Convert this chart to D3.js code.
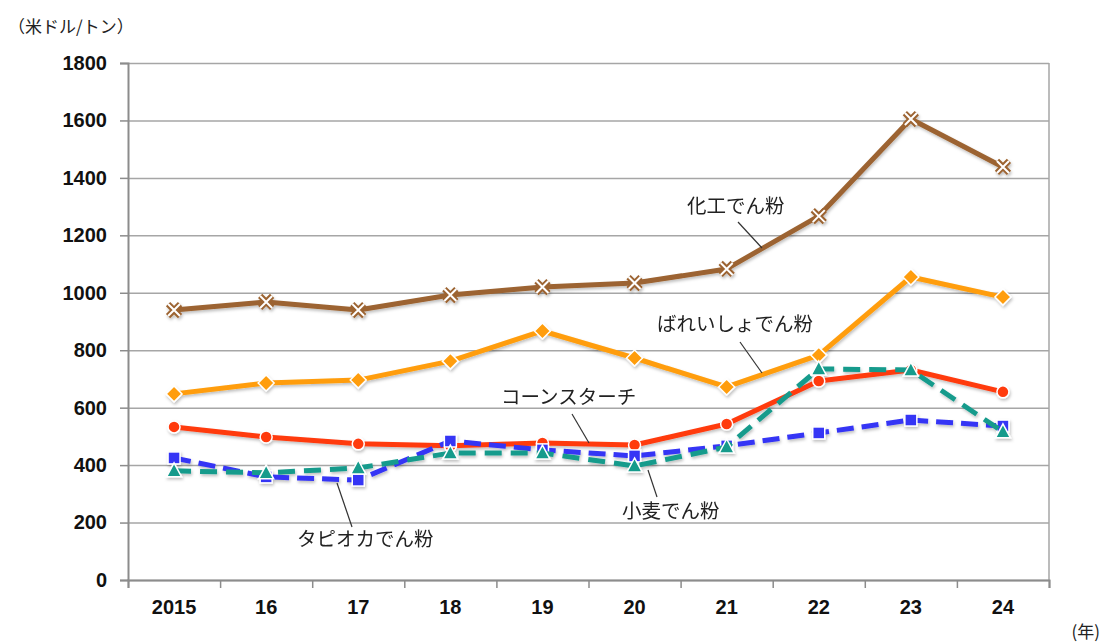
<!DOCTYPE html>
<html>
<head>
<meta charset="utf-8">
<script src="https://cdn.jsdelivr.net/npm/d3@7"></script>
<style>
  body { margin: 0; background: #fff; }
  svg { display: block; }
  .jp { font-family: "Noto Sans CJK JP", sans-serif; fill: #222; }
</style>
</head>
<body>
<svg id="chart" width="1103" height="644"></svg>
<script>
// Data
const years = ["2015", "16", "17", "18", "19", "20", "21", "22", "23", "24"];
const kakou = [940, 968, 940, 992, 1020, 1034, 1083, 1267, 1605, 1438];      // 化工でん粉
const bareisho = [648, 686, 696, 762, 867, 773, 672, 783, 1055, 985];        // ばれいしょでん粉
const corn = [533, 498, 474, 467, 477, 470, 543, 693, 731, 655];             // コーンスターチ
const tapioca = [425, 359, 348, 484, 453, 432, 467, 512, 557, 536];          // タピオカでん粉
const komugi = [380, 373, 390, 442, 442, 397, 463, 735, 731, 516];           // 小麦でん粉
const yTicks = [0, 200, 400, 600, 800, 1000, 1200, 1400, 1600, 1800];

const series = [
    { name: "化工でん粉", values: kakou, color: "#9c6330", marker: "x", dash: null },
    { name: "ばれいしょでん粉", values: bareisho, color: "#ff9d0a", marker: "diamond", dash: null },
    { name: "コーンスターチ", values: corn, color: "#ff3a10", marker: "circle", dash: null },
    { name: "タピオカでん粉", values: tapioca, color: "#3535f5", marker: "square", dash: "17,8" },
    { name: "小麦でん粉", values: komugi, color: "#159b8c", marker: "triangle", dash: "17,9" }
];

const svg = d3.select("#chart");
const plotL = 128, plotR = 1049, plotT = 63, plotB = 580;

const x = d3.scaleBand().domain(years).range([plotL, plotR]);
const xEdge = d3.scaleLinear().domain([0, years.length]).range([plotL, plotR]);
const y = d3.scaleLinear().domain([0, 1800]).range([plotB, plotT]);

const defs = svg.append("defs");
defs.append("filter").attr("id", "shadow")
    .attr("x", "-10%").attr("y", "-10%").attr("width", "120%").attr("height", "130%")
    .append("feDropShadow")
    .attr("dx", 1).attr("dy", 2).attr("stdDeviation", 1.5)
    .attr("flood-color", "#000").attr("flood-opacity", 0.25);

// gridlines
svg.append("g")
    .attr("transform", `translate(${plotL},0)`)
    .call(d3.axisLeft(y).tickValues(yTicks).tickSize(-(plotR - plotL)).tickFormat(""))
    .call(g => g.select(".domain").remove())
    .selectAll("line").attr("stroke", "#a6a6a6").attr("stroke-width", 1.5);

// right border
svg.append("line")
    .attr("x1", plotR).attr("x2", plotR).attr("y1", plotT).attr("y2", plotB)
    .attr("stroke", "#a6a6a6").attr("stroke-width", 1.5);

// y axis
const yAxis = svg.append("g")
    .attr("transform", `translate(${plotL},0)`)
    .call(d3.axisLeft(y).tickValues(yTicks).tickSize(8).tickPadding(13).tickFormat(d3.format("d")));
yAxis.select(".domain").attr("stroke", "#8c8c8c").attr("stroke-width", 2);
yAxis.selectAll("line").attr("stroke", "#8c8c8c").attr("stroke-width", 1.5);
yAxis.selectAll("text")
    .style("font-family", "'Liberation Sans', Arial, sans-serif")
    .style("font-size", "20px").style("font-weight", "bold").attr("fill", "#111");

// x axis tick marks at band edges
const xTicks = svg.append("g")
    .attr("transform", `translate(0,${plotB})`)
    .call(d3.axisBottom(xEdge).tickValues(d3.range(years.length + 1)).tickSize(8).tickFormat(""));
xTicks.select(".domain").attr("stroke", "#8c8c8c").attr("stroke-width", 2);
xTicks.selectAll("line").attr("stroke", "#8c8c8c").attr("stroke-width", 1.5);

// x axis labels
const xLab = svg.append("g")
    .attr("transform", `translate(0,${plotB})`)
    .call(d3.axisBottom(x).tickSize(0).tickPadding(20));
xLab.select(".domain").remove();
xLab.selectAll("text")
    .style("font-family", "'Liberation Sans', Arial, sans-serif")
    .style("font-size", "20px").style("font-weight", "bold").attr("fill", "#111");

// unit labels
svg.append("text").attr("class", "jp")
    .attr("x", 8).attr("y", 33).style("font-size", "17px")
    .text("（米ドル/トン）");
svg.append("text").attr("class", "jp")
    .attr("x", 1100).attr("y", 638).attr("text-anchor", "end").style("font-size", "17px")
    .text("(年)");

// lines
const line = d3.line()
    .x((d, i) => x(years[i]) + x.bandwidth() / 2)
    .y(d => y(d));

const plot = svg.append("g").attr("filter", "url(#shadow)");

series.forEach(s => {
    const g = plot.append("g");
    g.append("path")
        .datum(s.values)
        .attr("fill", "none")
        .attr("stroke", s.color)
        .attr("stroke-width", 5)
        .attr("stroke-linejoin", "round")
        .attr("stroke-dasharray", s.dash)
        .attr("d", line);

    const pts = g.selectAll(".pt")
        .data(s.values)
        .join("g")
        .attr("transform", (d, i) => `translate(${x(years[i]) + x.bandwidth() / 2},${y(d)})`);

    if (s.marker === "circle") {
        pts.append("circle").attr("r", 6)
            .attr("fill", s.color).attr("stroke", "#fff").attr("stroke-width", 1.5);
    } else if (s.marker === "square") {
        pts.append("rect").attr("x", -6).attr("y", -6).attr("width", 12).attr("height", 12)
            .attr("fill", s.color).attr("stroke", "#fff").attr("stroke-width", 1.5);
    } else if (s.marker === "diamond") {
        pts.append("path").attr("d", "M0,-8L8,0L0,8L-8,0Z")
            .attr("fill", s.color).attr("stroke", "#fff").attr("stroke-width", 1.5);
    } else if (s.marker === "triangle") {
        pts.append("path").attr("d", "M0,-8L7.5,6L-7.5,6Z")
            .attr("fill", s.color).attr("stroke", "#fff").attr("stroke-width", 1.5);
    } else if (s.marker === "x") {
        pts.append("path").attr("d", "M-6,-6L6,6M-6,6L6,-6")
            .attr("stroke", s.color).attr("stroke-width", 6);
        pts.append("path").attr("d", "M-6,-6L6,6M-6,6L6,-6")
            .attr("stroke", "#fff").attr("stroke-width", 2);
    }
});

// series labels with leader lines
const labels = [
    { text: series[0].name, tx: 687, ty: 213, l: [738, 222, 762, 248] },
    { text: series[1].name, tx: 657, ty: 331, l: [740, 342, 762, 373] },
    { text: series[2].name, tx: 501, ty: 404, l: [572, 414, 589, 443] },
    { text: series[3].name, tx: 297, ty: 546, l: [337, 483, 352, 527] },
    { text: series[4].name, tx: 622, ty: 518, l: [648, 470, 657, 497] }
];

labels.forEach(d => {
    svg.append("line")
        .attr("x1", d.l[0]).attr("y1", d.l[1]).attr("x2", d.l[2]).attr("y2", d.l[3])
        .attr("stroke", "#333").attr("stroke-width", 1.2);
    svg.append("text").attr("class", "jp")
        .attr("x", d.tx).attr("y", d.ty)
        .style("font-size", "19.5px")
        .text(d.text);
});
</script>
</body>
</html>
